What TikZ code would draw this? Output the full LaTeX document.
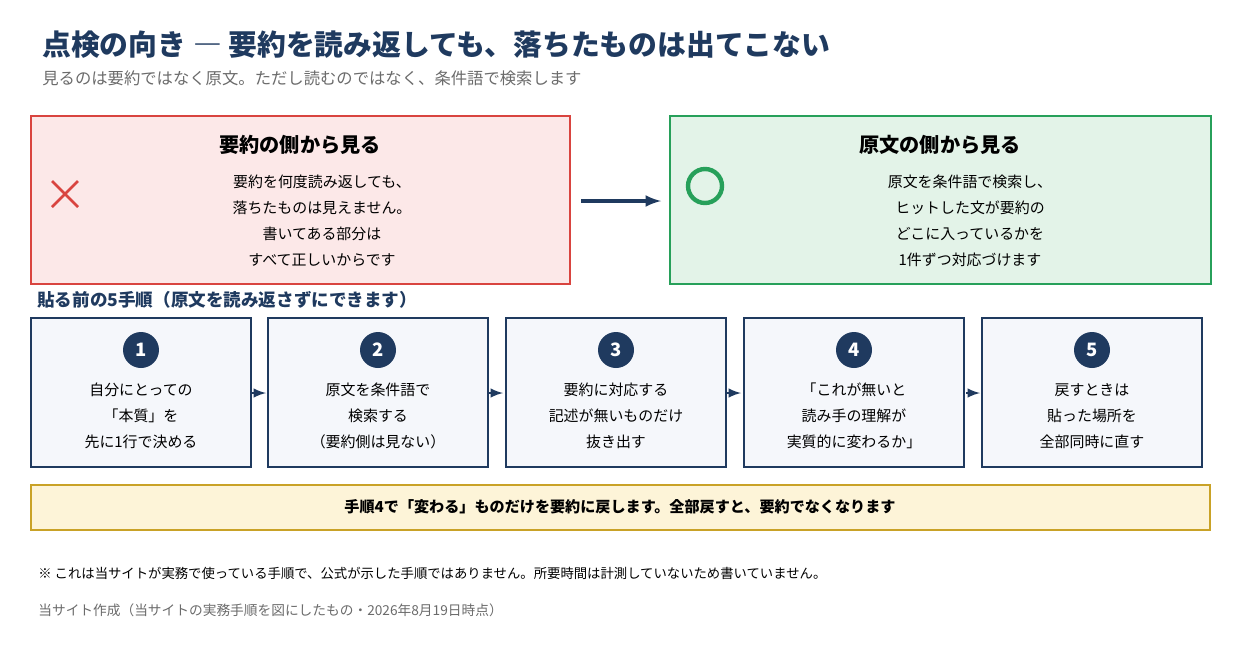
\documentclass[tikz,border=0pt]{standalone}
\usepackage{fontspec}
\setmainfont{Noto Sans CJK JP}
\usetikzlibrary{positioning}
\definecolor{navy}{HTML}{1F3A5F}
\definecolor{grayt}{HTML}{6B6B6B}
\definecolor{redb}{HTML}{D9443F}
\definecolor{redf}{HTML}{FCE8E8}
\definecolor{greenb}{HTML}{27A05A}
\definecolor{greenf}{HTML}{E3F3E8}
\definecolor{stepf}{HTML}{F5F7FB}
\definecolor{yelf}{HTML}{FDF4D8}
\definecolor{yelb}{HTML}{C9A227}
\begin{document}
\begin{tikzpicture}[x=0.02cm,y=-0.02cm,
   every node/.style={inner sep=0pt},
   panel/.style={draw,line width=1.6pt},
   stepbox/.style={draw=navy,fill=stepf,line width=1.6pt},
   num/.style={circle,fill=navy,minimum size=0.72cm,text=white,font=\bfseries\fontsize{10.5}{10.5}\selectfont},
   body/.style={align=center,font=\fontsize{8.5}{14.8}\selectfont,text=black},
   next/.style={-latex,navy,line width=1.4pt}]
\useasboundingbox (0,0) rectangle (1240,660);
% title
\node[anchor=west,text=navy,font=\bfseries\fontsize{16.4}{16.4}\selectfont] (title) at (42,45) {点検の向き ― 要約を読み返しても、落ちたものは出てこない};
\node[anchor=west,text=grayt,font=\fontsize{9.3}{9.3}\selectfont] (sub) at (42,78) {見るのは要約ではなく原文。ただし読むのではなく、条件語で検索します};
% two panels
\draw[panel,draw=redb,fill=redf] (31,116) rectangle (570,284);
\node[font=\bfseries\fontsize{11.5}{11.5}\selectfont] (redt) at (300,145) {要約の側から見る};
\node[body] (redx) at (322,221) {要約を何度読み返しても、\\落ちたものは見えません。\\書いてある部分は\\すべて正しいからです};
\draw[redb,line width=1.5pt] (52,181) -- (78,207) (78,181) -- (52,207);
\draw[panel,draw=greenb,fill=greenf] (670,116) rectangle (1211,284);
\node[font=\bfseries\fontsize{11.5}{11.5}\selectfont] (grnt) at (940,145) {原文の側から見る};
\node[body] (grnx) at (970,221) {原文を条件語で検索し、\\ヒットした文が要約の\\どこに入っているかを\\1件ずつ対応づけます};
\draw[greenb,line width=2.5pt] (705,186) circle (17);
\coordinate (a1) at (581,201);
\coordinate (a2) at (661,201);
\draw[next,line width=2pt] (a1) -- (a2);
% steps
\node[anchor=west,text=navy,font=\bfseries\fontsize{10}{10}\selectfont] (head) at (37,300) {貼る前の5手順（原文を読み返さずにできます）};
\foreach \i/\x/\t in {1/31/{自分にとっての\\「本質」を\\先に1行で決める},
                      2/268/{原文を条件語で\\検索する\\（要約側は見ない）},
                      3/506/{要約に対応する\\記述が無いものだけ\\抜き出す},
                      4/744/{「これが無いと\\読み手の理解が\\実質的に変わるか」},
                      5/982/{戻すときは\\貼った場所を\\全部同時に直す}}{
  \draw[stepbox] (\x,318) rectangle ++(220,149);
  \node[num] (n\i) at (\x+110,350) {\i};
  \node[body] (s\i) at (\x+110,416) {\t};
}
\foreach \x in {252,489,727,966}{
  \draw[next] (\x,393) -- (\x+14,393);
}
% summary
\draw[panel,draw=yelb,fill=yelf] (31,485) rectangle (1210,530);
\node[font=\bfseries\fontsize{8.6}{8.6}\selectfont] (sum) at (620,507) {手順4で「変わる」ものだけを要約に戻します。全部戻すと、要約でなくなります};
% notes
\node[anchor=west,font=\fontsize{7.6}{7.6}\selectfont] (note) at (38,573) {※ これは当サイトが実務で使っている手順で、公式が示した手順ではありません。所要時間は計測していないため書いていません。};
\node[anchor=west,text=grayt,font=\fontsize{7.8}{7.8}\selectfont] (src) at (38,610) {当サイト作成（当サイトの実務手順を図にしたもの・2026年8月19日時点）};
\end{tikzpicture}
\end{document}
